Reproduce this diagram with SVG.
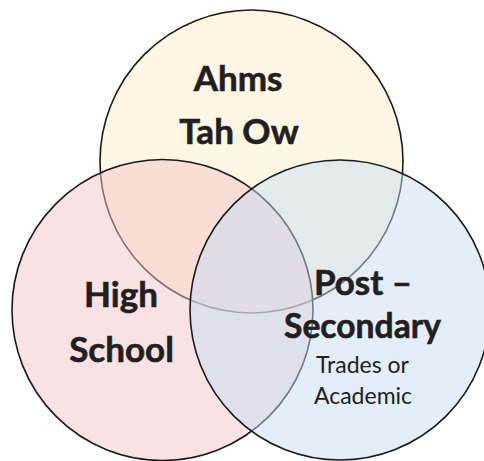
<svg xmlns="http://www.w3.org/2000/svg" width="484" height="461" viewBox="0 0 484 461">
<style>
.c{stroke:#1a1a1a;stroke-width:1.6;fill-opacity:0.5}
.t{font-family:Lato,"Open Sans","Liberation Sans",sans-serif;font-weight:bold;font-size:35px;fill:#231f20;text-anchor:middle;stroke:#231f20;stroke-width:0.6}
.s{font-family:Lato,"Open Sans","Liberation Sans",sans-serif;font-size:23px;fill:#231f20;text-anchor:middle}
</style>
<rect width="484" height="461" fill="#ffffff"/>
<g id="ahms">
<circle class="c" cx="251.5" cy="161.5" r="151.5" fill="#FFEDCA"/>
</g>
<g id="high-school">
<circle class="c" cx="162.5" cy="310" r="150.5" fill="#F3C5C9"/>
</g>
<g id="post-secondary">
<circle class="c" cx="340" cy="310" r="150" fill="#C7DDF1"/>
</g>
<g id="labels">
<text class="t" x="238" y="91">Ahms</text>
<text class="t" x="239" y="144">Tah Ow</text>
<text class="t" x="121" y="307">High</text>
<text class="t" x="121.5" y="362">School</text>
<text class="t" x="363" y="295">Post –</text>
<text class="t" x="362.5" y="338" textLength="157" lengthAdjust="spacingAndGlyphs">Secondary</text>
<text class="s" x="362.5" y="373">Trades or</text>
<text class="s" x="363" y="404">Academic</text>
</g>
</svg>
